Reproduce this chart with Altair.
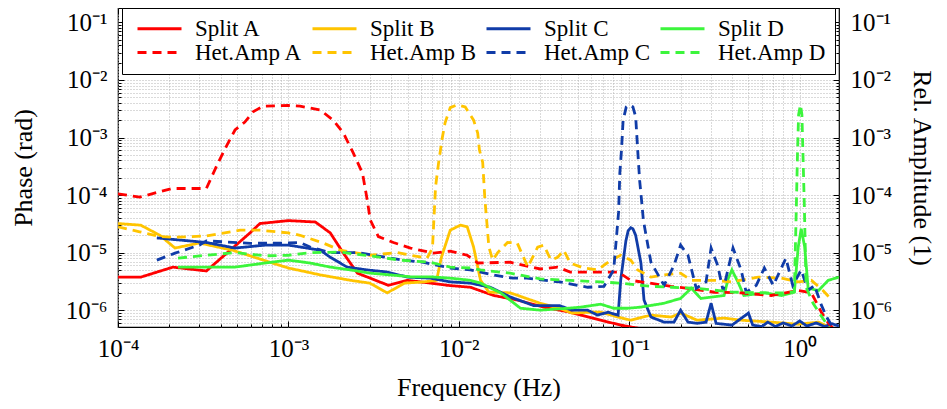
import altair as alt
import pandas as pd

SERIES = ["Split A", "Split B", "Split C", "Split D",
          "Het.Amp A", "Het.Amp B", "Het.Amp C", "Het.Amp D"]
COLORS = ["#ff0000", "#ffc400", "#103ca8", "#3cf53c",
          "#ff0000", "#ffc400", "#103ca8", "#3cf53c"]
DASHES = [[1, 0], [1, 0], [1, 0], [1, 0], [9, 6], [9, 6], [9, 6], [9, 6]]

# (frequency [Hz], value)
SPLIT_A = [(1e-4, 3.75e-6), (1.36e-4, 3.75e-6), (2.1e-4, 5.6e-6), (3.3e-4, 4.8e-6),
           (5.95e-4, 2.2e-5), (6.8e-4, 3.2e-5), (1.0e-3, 3.6e-5), (1.44e-3, 3.4e-5),
           (1.76e-3, 2.2e-5), (2.1e-3, 9.8e-6), (2.54e-3, 4.4e-6), (3.86e-3, 2.7e-6),
           (4.99e-3, 3.3e-6), (6.8e-3, 2.95e-6), (8.6e-3, 2.7e-6), (1.17e-2, 2.5e-6),
           (1.6e-2, 1.8e-6), (2.2e-2, 1.5e-6), (3.15e-2, 1.13e-6), (4.5e-2, 9.2e-7),
           (6.8e-2, 6.7e-7), (8.9e-2, 5.5e-7), (0.13, 4.5e-7)]
SPLIT_B = [(1e-4, 3.2e-5), (1.36e-4, 3.0e-5), (1.76e-4, 2.0e-5), (2.16e-4, 1.2e-5),
           (3.0e-4, 1.47e-5), (4.7e-4, 1.1e-5), (7.8e-4, 6.8e-6), (1.0e-3, 5.4e-6),
           (1.54e-3, 4.1e-6), (2.31e-3, 3.3e-6), (3.0e-3, 2.95e-6), (3.8e-3, 2.0e-6),
           (4.8e-3, 2.95e-6), (6.2e-3, 3.1e-6), (7.4e-3, 3.3e-6), (7.9e-3, 8.3e-6),
           (8.9e-3, 2.45e-5), (1.02e-2, 3.0e-5), (1.12e-2, 2.8e-5), (1.22e-2, 1.25e-5),
           (1.34e-2, 3.3e-6), (1.5e-2, 2.06e-6), (2.0e-2, 2.0e-6), (3.0e-2, 1.32e-6),
           (3.9e-2, 1.08e-6), (4.6e-2, 8.9e-7), (5.8e-2, 9.2e-7), (6.8e-2, 9.2e-7),
           (8.6e-2, 7.6e-7), (0.102, 6.7e-7), (0.134, 8.2e-7), (0.176, 7.6e-7),
           (0.2, 8.9e-7), (0.25, 6.7e-7), (0.36, 7.3e-7), (0.453, 6.7e-7),
           (0.68, 6.2e-7), (0.98, 5.7e-7), (1.29, 6.2e-7), (1.54, 4.8e-7)]
SPLIT_C = [(1.69e-4, 1.8e-5), (3.3e-4, 1.5e-5), (4.86e-4, 1.2e-5), (7.3e-4, 1.35e-5),
           (1.0e-3, 1.35e-5), (1.54e-3, 1.1e-5), (1.76e-3, 8.3e-6), (2.21e-3, 5.6e-6),
           (2.9e-3, 5.0e-6), (3.8e-3, 4.6e-6), (4.99e-3, 3.75e-6), (6.8e-3, 3.6e-6),
           (8.9e-3, 3.1e-6), (1.17e-2, 2.95e-6), (1.53e-2, 2.5e-6), (2.0e-2, 1.7e-6),
           (2.75e-2, 1.2e-6), (3.9e-2, 1.2e-6), (4.6e-2, 1.0e-6), (5.7e-2, 1.0e-6),
           (6.5e-2, 8.2e-7), (7.5e-2, 9.2e-7), (8.6e-2, 8.2e-7), (8.9e-2, 3.3e-6),
           (0.0955, 1.6e-5), (0.0985, 2.4e-5), (0.102, 2.7e-5), (0.105, 2.6e-5),
           (0.109, 2.0e-5), (0.117, 6.6e-6), (0.122, 1.5e-6), (0.134, 7.6e-7),
           (0.16, 6.2e-7), (0.183, 6.2e-7), (0.2, 1.0e-6), (0.221, 6.2e-7),
           (0.25, 5.9e-7), (0.282, 6.2e-7), (0.302, 1.32e-6), (0.323, 5.9e-7),
           (0.4, 5.5e-7), (0.5, 8.9e-7), (0.53, 5.5e-7), (0.6, 5.2e-7), (0.65, 6.2e-7),
           (0.72, 5.2e-7), (0.8, 6.0e-7), (0.9, 5.3e-7), (1.0, 6.5e-7), (1.1, 5.3e-7),
           (1.25, 6.0e-7), (1.4, 5.2e-7), (1.55, 5.8e-7), (1.7, 5.3e-7)]
SPLIT_D = [(2.25e-4, 5.6e-6), (4.86e-4, 5.6e-6), (7.3e-4, 6.6e-6), (1.0e-3, 7.4e-6),
           (1.34e-3, 6.6e-6), (1.76e-3, 5.6e-6), (2.31e-3, 5.0e-6), (3.0e-3, 4.4e-6),
           (3.96e-3, 4.1e-6), (5.2e-3, 3.8e-6), (6.8e-3, 3.8e-6), (8.9e-3, 3.6e-6),
           (1.17e-2, 3.3e-6), (1.34e-2, 2.95e-6), (1.76e-2, 2.0e-6), (2.3e-2, 1.08e-6),
           (3.0e-2, 1.0e-6), (4.36e-2, 1.08e-6), (5.2e-2, 1.13e-6), (6.8e-2, 1.27e-6),
           (8.1e-2, 1.08e-6), (9.8e-2, 1.08e-6), (0.117, 1.13e-6), (0.16, 1.32e-6),
           (0.2, 1.6e-6), (0.231, 2.4e-6), (0.263, 1.6e-6), (0.36, 1.8e-6),
           (0.38, 3.5e-6), (0.4, 5.0e-6), (0.436, 3.0e-6), (0.47, 1.8e-6),
           (0.62, 2.0e-6), (0.78, 1.8e-6), (0.93, 2.06e-6), (0.98, 1.25e-5),
           (1.02, 2.6e-5), (1.07, 1.25e-5), (1.12, 2.4e-6), (1.29, 2.2e-6),
           (1.47, 3.3e-6), (1.7, 3.75e-6)]
HET_A = [(1e-4, 1.05e-4), (1.34e-4, 9.2e-5), (2.07e-4, 1.3e-4), (3.3e-4, 1.3e-4),
         (3.86e-4, 3.6e-4), (4.36e-4, 7.4e-4), (4.86e-4, 1.35e-3), (5.55e-4, 1.86e-3),
         (6.2e-4, 2.8e-3), (7.1e-4, 3.5e-3), (1.0e-3, 3.6e-3), (1.17e-3, 3.5e-3),
         (1.54e-3, 3.0e-3), (1.83e-3, 2.0e-3), (2.1e-3, 1.2e-3), (2.4e-3, 5.4e-4),
         (2.72e-3, 2.4e-4), (2.9e-3, 8.2e-5), (3.02e-3, 3.7e-5), (3.37e-3, 1.9e-5),
         (4.13e-3, 1.5e-5), (5.2e-3, 1.2e-5), (7.1e-3, 9.8e-6), (8.9e-3, 1.06e-5),
         (1.12e-2, 9.0e-6), (1.29e-2, 6.6e-6), (2.0e-2, 6.8e-6), (3.0e-2, 5.2e-6),
         (3.8e-2, 5.6e-6), (4.5e-2, 4.6e-6), (6.8e-2, 4.6e-6), (8.6e-2, 4.6e-6),
         (0.102, 3.3e-6), (0.176, 2.6e-6), (0.221, 2.4e-6), (0.316, 2.05e-6),
         (0.453, 2.0e-6), (0.68, 1.8e-6), (0.98, 2.2e-6), (1.17, 2.0e-6),
         (1.34, 9.2e-7), (1.47, 6.0e-7), (1.6, 4.5e-7)]
HET_B = [(1e-4, 2.8e-5), (1.34e-4, 2.3e-5), (1.76e-4, 1.9e-5), (2.16e-4, 1.85e-5),
         (3.3e-4, 1.95e-5), (5.2e-4, 2.45e-5), (6.8e-4, 2.45e-5), (1.0e-3, 2.2e-5),
         (1.17e-3, 2.0e-5), (1.6e-3, 1.47e-5), (2.01e-3, 1.1e-5), (3.0e-3, 9.0e-6),
         (4.36e-3, 1.0e-5), (5.2e-3, 9.0e-6), (6.5e-3, 8.0e-6), (7.0e-3, 1.2e-5),
         (7.3e-3, 1.4e-4), (7.6e-3, 3.6e-4), (8.0e-3, 1.0e-3), (8.3e-3, 1.8e-3),
         (8.9e-3, 3.3e-3), (9.8e-3, 3.7e-3), (1.09e-2, 3.4e-3), (1.22e-2, 2.0e-3),
         (1.29e-2, 1.2e-3), (1.32e-2, 6.1e-4), (1.38e-2, 3.7e-4), (1.42e-2, 8.9e-5),
         (1.5e-2, 1.25e-5), (1.58e-2, 7.4e-6), (1.69e-2, 1.0e-5), (1.93e-2, 1.5e-5),
         (2.2e-2, 1.47e-5), (2.54e-2, 5.6e-6), (2.9e-2, 1.25e-5), (3.15e-2, 1.35e-5),
         (3.47e-2, 7.4e-6), (3.8e-2, 8.3e-6), (4.13e-2, 1.1e-5), (4.5e-2, 6.6e-6),
         (5.4e-2, 5.4e-6), (6.5e-2, 5.0e-6), (7.8e-2, 7.4e-6), (8.9e-2, 9.0e-6),
         (0.102, 7.4e-6), (0.112, 5.0e-6), (0.134, 3.75e-6), (0.16, 4.1e-6),
         (0.2, 4.4e-6), (0.231, 3.3e-6), (0.316, 3.3e-6), (0.4, 3.1e-6),
         (0.57, 3.75e-6), (0.78, 3.6e-6), (0.98, 3.1e-6), (1.17, 3.3e-6),
         (1.37, 2.2e-6), (1.54, 1.5e-6)]
HET_C = [(1.69e-4, 7.4e-6), (2.16e-4, 9.8e-6), (3.0e-4, 1.35e-5), (3.3e-4, 1.6e-5),
         (6.0e-4, 1.45e-5), (1.0e-3, 1.47e-5), (1.17e-3, 1.5e-5), (1.34e-3, 1.25e-5),
         (1.76e-3, 1.0e-5), (2.54e-3, 1.0e-5), (3.3e-3, 8.8e-6), (4.7e-3, 7.4e-6),
         (6.2e-3, 6.8e-6), (8.9e-3, 5.4e-6), (1.17e-2, 5.0e-6), (1.6e-2, 4.1e-6),
         (2.07e-2, 3.6e-6), (2.5e-2, 3.6e-6), (3.9e-2, 3.1e-6), (5.7e-2, 2.5e-6),
         (7.1e-2, 2.6e-6), (8.1e-2, 5.0e-6), (0.0865, 5.0e-5), (0.088, 2.4e-4),
         (0.09, 6.1e-4), (0.092, 2.0e-3), (0.096, 3.4e-3), (0.1, 3.7e-3),
         (0.105, 3.4e-3), (0.109, 2.3e-3), (0.112, 6.1e-4), (0.115, 1.8e-4),
         (0.118, 8.2e-5), (0.121, 3.6e-5), (0.134, 6.8e-6), (0.16, 2.7e-6),
         (0.183, 6.0e-6), (0.2, 1.35e-5), (0.221, 9.0e-6), (0.247, 2.4e-6),
         (0.282, 3.1e-6), (0.302, 1.2e-5), (0.33, 6.0e-6), (0.355, 2.2e-6),
         (0.406, 1.2e-5), (0.453, 5.0e-6), (0.485, 2.06e-6), (0.556, 2.7e-6),
         (0.62, 5.4e-6), (0.7, 2.7e-6), (0.78, 5.4e-6), (0.83, 8.0e-6),
         (0.91, 2.7e-6), (1.02, 5.0e-6), (1.12, 2.2e-6), (1.22, 2.7e-6),
         (1.34, 1.22e-6), (1.45, 7.3e-7), (1.6, 4.5e-7)]
HET_D = [(2.25e-4, 8.0e-6), (3.3e-4, 9.0e-6), (4.86e-4, 1.0e-5), (7.3e-4, 8.8e-6),
         (1.0e-3, 9.0e-6), (1.34e-3, 1.0e-5), (2.0e-3, 1.02e-5), (3.0e-3, 8.8e-6),
         (4.54e-3, 7.4e-6), (6.8e-3, 6.8e-6), (8.9e-3, 5.6e-6), (1.17e-2, 5.4e-6),
         (1.34e-2, 5.0e-6), (2.0e-2, 4.4e-6), (3.0e-2, 3.5e-6), (4.5e-2, 3.3e-6),
         (6.8e-2, 3.1e-6), (8.9e-2, 2.95e-6), (0.117, 2.7e-6), (0.134, 2.6e-6),
         (0.176, 2.5e-6), (0.25, 2.4e-6), (0.4, 2.06e-6), (0.62, 2.0e-6),
         (0.85, 2.0e-6), (0.93, 2.1e-6), (0.955, 6.0e-5), (0.97, 5.0e-4),
         (0.985, 2.5e-3), (1.01, 3.7e-3), (1.03, 2.5e-3), (1.045, 5.0e-4),
         (1.065, 6.0e-5), (1.09, 2.5e-6), (1.2, 1.3e-6), (1.35, 7.6e-7), (1.55, 4.2e-7)]

X_MAJOR = [1e-4, 1e-3, 1e-2, 1e-1, 1.0]
Y_MAJOR = [1e-6, 1e-5, 1e-4, 1e-3, 1e-2, 1e-1]
X_MINOR = [k * m for m in [1e-4, 1e-3, 1e-2, 1e-1] for k in range(2, 10)]
Y_MINOR = [k * m for m in [1e-7, 1e-6, 1e-5, 1e-4, 1e-3, 1e-2] for k in range(2, 10)
           if 5.1e-7 <= k * m <= 0.178]
TICK_LABELS = ["10⁻⁶", "10⁻⁵", "10⁻⁴", "10⁻³", "10⁻²", "10⁻¹", "10⁰"]
LABEL_EXPR = "[" + ",".join("'%s'" % s for s in TICK_LABELS) + "][round(log(datum.value)/LN10)+6]"

FONT = "Liberation Serif"

rows = []
for name, pts in zip(SERIES, [SPLIT_A, SPLIT_B, SPLIT_C, SPLIT_D, HET_A, HET_B, HET_C, HET_D]):
    for f, v in pts:
        rows.append({"series": name, "f": f, "v": v})
df = pd.DataFrame(rows)

xs = alt.Scale(type="log", domain=[1e-4, 1.7], nice=False)
ys = alt.Scale(type="log", domain=[5.1e-7, 0.178], nice=False)

legend = alt.Legend(title=None, orient="none", legendX=4, legendY=0, columns=4,
                    direction="horizontal",
                    symbolType="M-7.8,0H1", symbolSize=100, symbolStrokeWidth=3,
                    symbolOffset=34,
                    labelFont=FONT, labelFontSize=23, labelColor="black",
                    fillColor="white", strokeColor="black", padding=9,
                    rowPadding=0, columnPadding=3, labelOffset=7)

lines = alt.Chart(df).mark_line(clip=True, strokeWidth=2.8).encode(
    x=alt.X("f:Q", scale=xs, axis=alt.Axis(
        orient="bottom", values=X_MAJOR, labelExpr=LABEL_EXPR, title="Frequency (Hz)",
        ticks=False, tickSize=0, domain=False, grid=False, labelPadding=9,
        titlePadding=13, labelFlush=False)),
    y=alt.Y("v:Q", scale=ys, axis=alt.Axis(
        orient="left", values=Y_MAJOR, labelExpr=LABEL_EXPR, title="Phase (rad)",
        ticks=False, tickSize=0, domain=False, grid=False, labelPadding=11,
        titlePadding=29, labelFlush=False)),
    color=alt.Color("series:N", scale=alt.Scale(domain=SERIES, range=COLORS), legend=legend),
    strokeDash=alt.StrokeDash("series:N", scale=alt.Scale(domain=SERIES, range=DASHES), legend=legend),
)

def guide_layer(xaxis, yaxis):
    return alt.Chart(df).mark_point(opacity=0).encode(
        x=alt.X("f:Q", scale=xs, axis=xaxis),
        y=alt.Y("v:Q", scale=ys, axis=yaxis),
    )

def grid_axis(orient, values):
    return alt.Axis(orient=orient, values=values, grid=True, gridColor="#b4b4b4",
                    gridDash=[1, 2], gridWidth=1, ticks=False, labels=False,
                    domain=False, title=None)

def tick_axis(orient, values, size):
    return alt.Axis(orient=orient, values=values, grid=False, ticks=True,
                    tickSize=size, offset=-size, tickColor="black", tickWidth=1,
                    labels=False, domain=False, title=None)

grid = guide_layer(grid_axis("bottom", X_MAJOR + X_MINOR), grid_axis("left", Y_MAJOR + Y_MINOR))
ticks_bl_major = guide_layer(tick_axis("bottom", X_MAJOR, 6), tick_axis("left", Y_MAJOR, 6))
ticks_bl_minor = guide_layer(tick_axis("bottom", X_MINOR, 3), tick_axis("left", Y_MINOR, 3))
ticks_tr_major = guide_layer(tick_axis("top", X_MAJOR, 6), tick_axis("right", Y_MAJOR, 6))
ticks_tr_minor = guide_layer(tick_axis("top", X_MINOR, 3), tick_axis("right", Y_MINOR, 3))
right_labels = alt.Chart(df).mark_point(opacity=0).encode(
    x=alt.X("f:Q", scale=xs, axis=None),
    y=alt.Y("v:Q", scale=ys, axis=alt.Axis(
        orient="right", values=Y_MAJOR, labelExpr=LABEL_EXPR, title="Rel. Amplitude (1)",
        ticks=False, tickSize=0, domain=False, grid=False, labelPadding=11,
        titlePadding=17, labelFlush=False)),
)

chart = alt.layer(
    grid, ticks_bl_major, ticks_bl_minor, ticks_tr_major, ticks_tr_minor, right_labels, lines
).resolve_axis(
    x="independent", y="independent"
).properties(
    width=721, height=319,
    autosize=alt.AutoSizeParams(type="none"),
    padding={"left": 110, "top": 0, "right": 100, "bottom": 74},
    background="white",
).configure_view(
    stroke="black", strokeWidth=1.2
).configure_axis(
    labelFont=FONT, titleFont=FONT, labelFontSize=25, titleFontSize=26,
    labelColor="black", titleColor="black", titleFontWeight="normal",
)

chart.save("out.html", embed_options={"renderer": "svg", "actions": False})
